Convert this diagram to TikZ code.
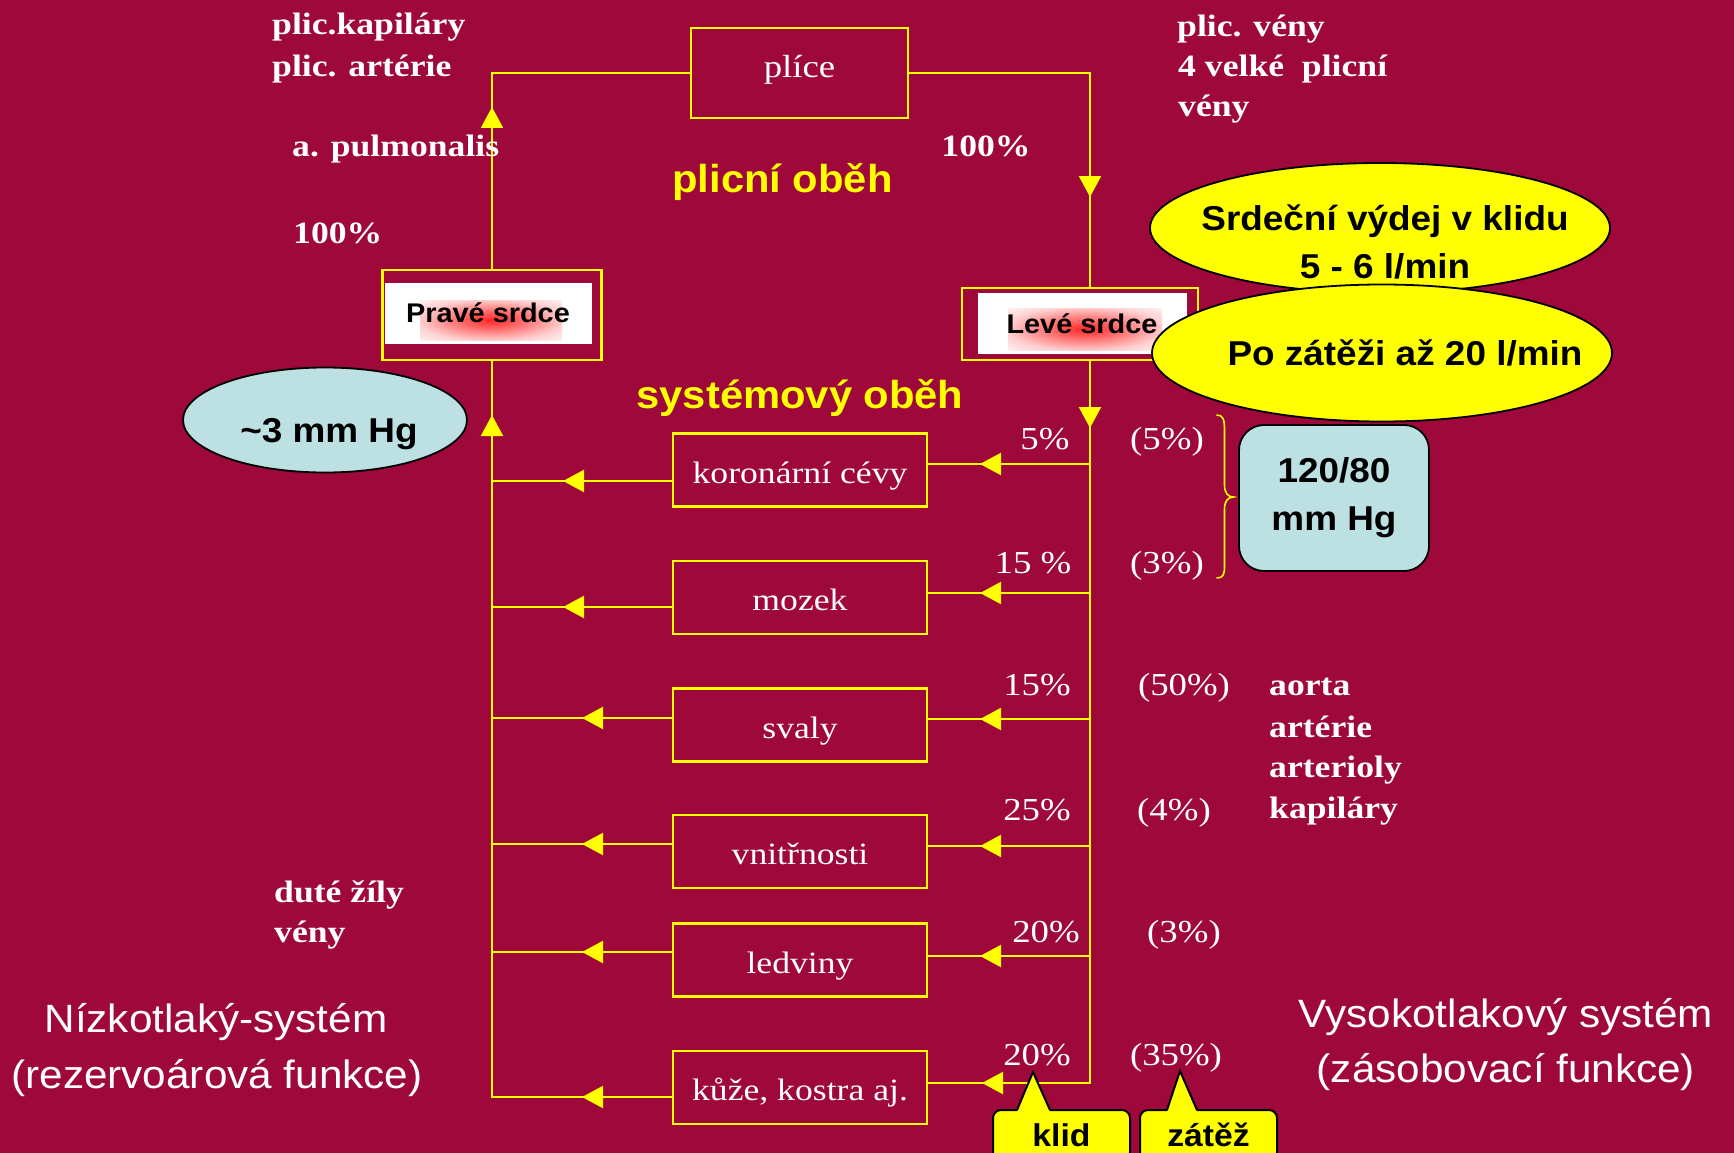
\documentclass[tikz,border=0pt]{standalone}
\usepackage{fontspec}
\setmainfont{Liberation Serif}
\newfontfamily\serf[FakeStretch=1.15]{Liberation Serif}
\newfontfamily\sanf[FakeStretch=1.07]{Liberation Sans}
\usetikzlibrary{arrows.meta,decorations.markings,shapes.geometric,calc}
\definecolor{bgred}{RGB}{158,8,58}
\definecolor{ylw}{RGB}{255,255,0}
\definecolor{ltblue}{RGB}{189,224,227}
\pgfdeclareradialshading{glow}{\pgfpoint{0bp}{0bp}}{color(0bp)=(red!85!white); color(10bp)=(red!60!white); color(26bp)=(red!18!white); color(40bp)=(white); color(50bp)=(white)}
\begin{document}
\begin{tikzpicture}[x=1pt,y=-1pt,
  flow/.style={color=ylw, line width=2.2pt},
  arrat/.style={postaction={decorate, decoration={markings, mark=at position #1 with {\arrow{Triangle[length=21pt,width=22pt]}}}}},
  ybox/.style={draw=ylw, line width=2.2pt, inner sep=0pt, outer sep=0pt},
  organ/.style={ybox, minimum width=254pt, minimum height=73pt, text=white,
     font=\serf\fontsize{31}{37}\selectfont, text height=34pt, text depth=8pt},
  serb/.style={text=white, font=\serf\bfseries\fontsize{31}{37}\selectfont, inner sep=0pt},
  serr/.style={text=white, font=\serf\fontsize{32}{38}\selectfont, inner sep=0pt},
  ttl/.style={text=ylw, font=\sanf\bfseries\fontsize{39}{47}\selectfont, inner sep=0pt},
  big/.style={text=white, font=\sanf\fontsize{39.5}{50}\selectfont, inner sep=0pt},
  blk/.style={text=black, font=\sanf\bfseries\fontsize{34.5}{48}\selectfont, inner sep=0pt},
  heart/.style={text=black, font=\sanf\bfseries\fontsize{27}{32}\selectfont, inner sep=0pt},
  callout/.style={fill=ylw, draw=black, line width=2pt, rounded corners=8pt, outer sep=0pt,
     minimum width=137pt, minimum height=50pt, inner sep=0pt,
     text=black, font=\sanf\bfseries\fontsize{31.5}{36}\selectfont}
]
\useasboundingbox (0,0) rectangle (1734,1153);
\clip (0,0) rectangle (1734,1153);
\fill[bgred] (0,0) rectangle (1734,1153);

% ---------- boxes ----------
\node[ybox, minimum width=217pt, minimum height=90pt, text=white,
      font=\serf\fontsize{32}{38}\selectfont, text height=18pt, text depth=8pt]
      (plice) at (799.5,73) {plíce};
\node[ybox, minimum width=219pt, minimum height=90pt] (pr) at (492,315) {};
\node[fill=white, minimum width=207pt, minimum height=61pt, inner sep=0pt] (prin) at (488,313.5) {};
\shade[shading=glow] (420,300) rectangle (562,340);
\node[heart, text height=25pt, text depth=8pt] (prt) at (488,313.5) {Pravé srdce};

\node[ybox, minimum width=236pt, minimum height=72pt] (lv) at (1080,324) {};
\node[fill=white, minimum width=209pt, minimum height=61pt, inner sep=0pt] (lvin) at (1082.5,323.5) {};
\shade[shading=glow] (1008,308) rectangle (1162,350);
\node[heart, text height=27pt, text depth=8pt] (lvt) at (1082,323.5) {Levé srdce};

\node[organ] (koronarni) at (800,470) {koronární cévy};
\node[organ] (mozek) at (800,597.5) {mozek};
\node[organ] (svaly) at (800,725) {svaly};
\node[organ] (vnitrnosti) at (800,851.5) {vnitřnosti};
\node[organ] (ledviny) at (800,960) {ledviny};
\node[organ] (kuze) at (800,1087.5) {kůže, kostra aj.};

% ---------- connectors ----------
\coordinate (rs) at ($(lv.south)+(10,0)$);
\draw[flow, arrat=163pt] (pr.north) |- (plice.west);
\draw[flow, arrat=306pt] (plice.east) -| ($(lv.north)+(10,0)$);
\path ($(kuze.east)+(0,-4.5)$) coordinate (uR);
\draw[flow, arrat=68pt, arrat=831pt] (rs) |- (uR);
\path ($(kuze.west)+(0,9.5)$) coordinate (uL);
\draw[flow, arrat=91pt, arrat=863pt] (uL) -| (pr.south);

\path ($(koronarni.east)+(0,-6)$) coordinate (kR);
\path ($(mozek.east)+(0,-4.5)$) coordinate (mR);
\path ($(svaly.east)+(0,-6)$) coordinate (sR);
\path ($(vnitrnosti.east)+(0,-5.5)$) coordinate (vR);
\path ($(ledviny.east)+(0,-4)$) coordinate (lR);
\foreach \c in {kR,mR,sR,vR,lR}{\draw[flow, arrat=110pt] (\c -| rs) -- (\c);}

\path ($(koronarni.west)+(0,11)$) coordinate (kL);
\path ($(mozek.west)+(0,9.5)$) coordinate (mL);
\path ($(svaly.west)+(0,-7)$) coordinate (sL);
\path ($(vnitrnosti.west)+(0,-7.5)$) coordinate (vL);
\path ($(ledviny.west)+(0,-8)$) coordinate (lL);
\draw[flow, arrat=110pt] (kL) -- (kL -| pr.south);
\draw[flow, arrat=110pt] (mL) -- (mL -| pr.south);
\foreach \c in {sL,vL,lL}{\draw[flow, arrat=91pt] (\c) -- (\c -| pr.south);}

% ---------- brace ----------
\draw[ylw, line width=1.6pt] (1216.5,415) .. controls (1223,415) and (1224.5,419) .. (1224.5,430)
  -- (1224.5,485) .. controls (1224.5,493) and (1228,497) .. (1233.5,497)
  .. controls (1228,497) and (1224.5,501) .. (1224.5,509)
  -- (1224.5,566) .. controls (1224.5,575) and (1223,578) .. (1216.5,578);

% ---------- ellipses / pressure boxes ----------
\node[ellipse, fill=ylw, draw=black, line width=1.8pt, minimum width=460pt, minimum height=130pt, inner sep=0pt] (e1) at (1380,228) {};
\node[blk, align=center] (e1t) at (1385,242) {Srdeční výdej v klidu\\5 - 6 l/min};
\node[ellipse, fill=ylw, draw=black, line width=1.8pt, minimum width=460pt, minimum height=137pt, inner sep=0pt] (e2) at (1382,353) {};
\node[blk, anchor=base] (e2t) at (1405,365) {Po zátěži až 20 l/min};

\node[ellipse, fill=ltblue, draw=black, line width=1.8pt, minimum width=284pt, minimum height=105pt, inner sep=0pt] (e3) at (325,420) {};
\node[blk, anchor=base] (e3t) at (329,442) {\textasciitilde 3 mm Hg};

\node[blk, align=center, fill=ltblue, draw=black, line width=1.8pt, rounded corners=25pt,
      minimum width=190pt, minimum height=146pt] (bp) at (1334,498) {120/80\\mm Hg};

% ---------- callouts ----------
\node[callout, anchor=north west] (klid) at (993,1110) {klid};
\node[callout, anchor=north west] (zatez) at (1140,1110) {zátěž};
\coordinate (klidtip) at (1033,1072);
\coordinate (zateztip) at (1180,1071);
\fill[ylw] ($(klid.north west)+(24,2)$) -- (klidtip) -- ($(klid.north west)+(57,2)$) -- cycle;
\draw[black, line width=2pt, line join=miter] ($(klid.north west)+(24,0)$) -- (klidtip) -- ($(klid.north west)+(57,0)$);
\fill[ylw] ($(zatez.north west)+(27,2)$) -- (zateztip) -- ($(zatez.north west)+(57,2)$) -- cycle;
\draw[black, line width=2pt, line join=miter] ($(zatez.north west)+(27,0)$) -- (zateztip) -- ($(zatez.north west)+(57,0)$);

% ---------- titles ----------
\node[ttl, anchor=base] (plob) at (782.5,192) {plicní oběh};
\node[ttl, anchor=base] (syob) at (800,408) {systémový oběh};

% ---------- white bold labels ----------
\node[serb, anchor=base west] (pk) at (272,35) {plic.kapiláry};
\node[serb, anchor=base west] (pa) at (272,77) {plic. artérie};
\node[serb, anchor=base west] (apul) at (292,157) {a. pulmonalis};
\node[serb, anchor=base west] (p100l) at (293,243) {100\%};
\node[serb, anchor=base west] (pv) at (1177,37) {plic. vény};
\node[serb, anchor=base west] (vp) at (1178,77) {4 velké\ \ plicní};
\node[serb, anchor=base west] (vv) at (1178,117) {vény};
\node[serb, anchor=base] (p100r) at (986,157) {100\%};
\node[serb, anchor=base west] (dz) at (274,902) {duté žíly};
\node[serb, anchor=base west] (vn) at (274,942) {vény};
\node[serb, anchor=base west] (ao) at (1269,695) {aorta};
\node[serb, anchor=base west] (ar) at (1269,737) {artérie};
\node[serb, anchor=base west] (al) at (1269,777) {arterioly};
\node[serb, anchor=base west] (ka) at (1269,818) {kapiláry};

% ---------- percentages ----------
\node[serr, anchor=base] (q1) at (1045,449) {5\%};
\node[serr, anchor=base] (z1) at (1167,449) {(5\%)};
\node[serr, anchor=base] (q2) at (1033,573) {15 \%};
\node[serr, anchor=base] (z2) at (1167,573) {(3\%)};
\node[serr, anchor=base] (q3) at (1037,695) {15\%};
\node[serr, anchor=base] (z3) at (1184,695) {(50\%)};
\node[serr, anchor=base] (q4) at (1037,820) {25\%};
\node[serr, anchor=base] (z4) at (1174,820) {(4\%)};
\node[serr, anchor=base] (q5) at (1046,942) {20\%};
\node[serr, anchor=base] (z5) at (1184,942) {(3\%)};
\node[serr, anchor=base] (q6) at (1037,1065) {20\%};
\node[serr, anchor=base] (z6) at (1176,1065) {(35\%)};

% ---------- system labels ----------
\node[big, anchor=base] (n1) at (216,1032) {Nízkotlaký-systém};
\node[big, anchor=base] (n2) at (217,1088) {(rezervoárová funkce)};
\node[big, anchor=base] (v1) at (1506,1027) {Vysokotlakový systém};
\node[big, anchor=base] (v2) at (1506,1082) {(zásobovací funkce)};
\end{tikzpicture}
\end{document}
